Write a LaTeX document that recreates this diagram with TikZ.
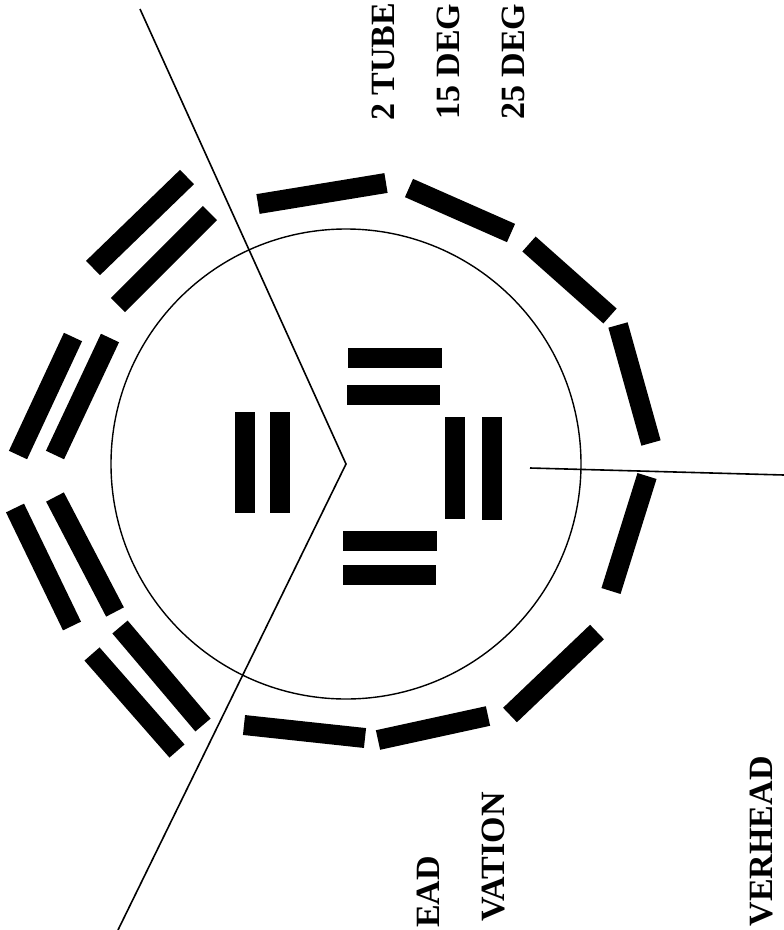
\documentclass[tikz,border=0pt]{standalone}
\usepackage{fontspec}
\setmainfont{Liberation Serif}

\begin{document}
\begin{tikzpicture}[x=1pt, y=-1pt,
  tube/.style={line width=20pt, black},
  guide/.style={line width=1.6pt, black},
  lbl/.style={font=\fontsize{34}{38}\selectfont\bfseries, inner sep=0pt,
              rotate=90},
]
  \useasboundingbox (0,0) rectangle (784,930);

  % Reference points
  \coordinate (hub)  at (346,464);
  \coordinate (cutA) at (140,9);
  \coordinate (cutB) at (118,930);
  \coordinate (axL)  at (530,468);
  \coordinate (axR)  at (784,475);

  % Ring circle and section lines
  \draw[line width=1.4pt] (hub) circle[radius=235];
  \draw[guide] (cutA) -- (hub) -- (cutB);
  \draw[guide] (axL) -- (axR);

  % Outer ring, single tubes
  \foreach \xa/\ya/\xb/\yb in {258/204/386/183, 409/188/511/233,
      529/244/610/316, 618/325/651/443, 647/476/611/591,
      597/632/510/715, 488/716/378/740, 365/738/244/725}
    \draw[tube] (\xa,\ya) -- (\xb,\yb);

  % Outer ring, paired tubes
  \foreach \xa/\ya/\xb/\yb in {187/177/93/268, 210/213/118/305,
      73/337/18/455, 110/338/55/455, 15/508/72/626, 55/497/115/612,
      92/654/177/751, 120/627/203/725}
    \draw[tube] (\xa,\ya) -- (\xb,\yb);

  % Inner tubes
  \foreach \xa/\ya/\xb/\yb in {245/412/245/513, 280/412/280/513,
      455/417/455/519, 492/417/492/520, 348/358/442/358,
      347/395/440/395, 343/541/437/541, 343/575/436/575}
    \draw[tube] (\xa,\ya) -- (\xb,\yb);

  % Labels
  \node[lbl, anchor=north west] (tubes) at (372,121) {2 TUBE};
  \node[lbl, anchor=north west] (dega)  at (437,120) {15 DEG};
  \node[lbl, anchor=north west] (degb)  at (502,120) {25 DEG};
  \node[lbl, anchor=north east] (ohd)   at (417,856) {EAD};
  \node[lbl, anchor=north east] (elev)  at (482,792) {VATION};
  \node[lbl, anchor=north east] (ovh)   at (750,756) {VERHEAD};
\end{tikzpicture}
\end{document}
